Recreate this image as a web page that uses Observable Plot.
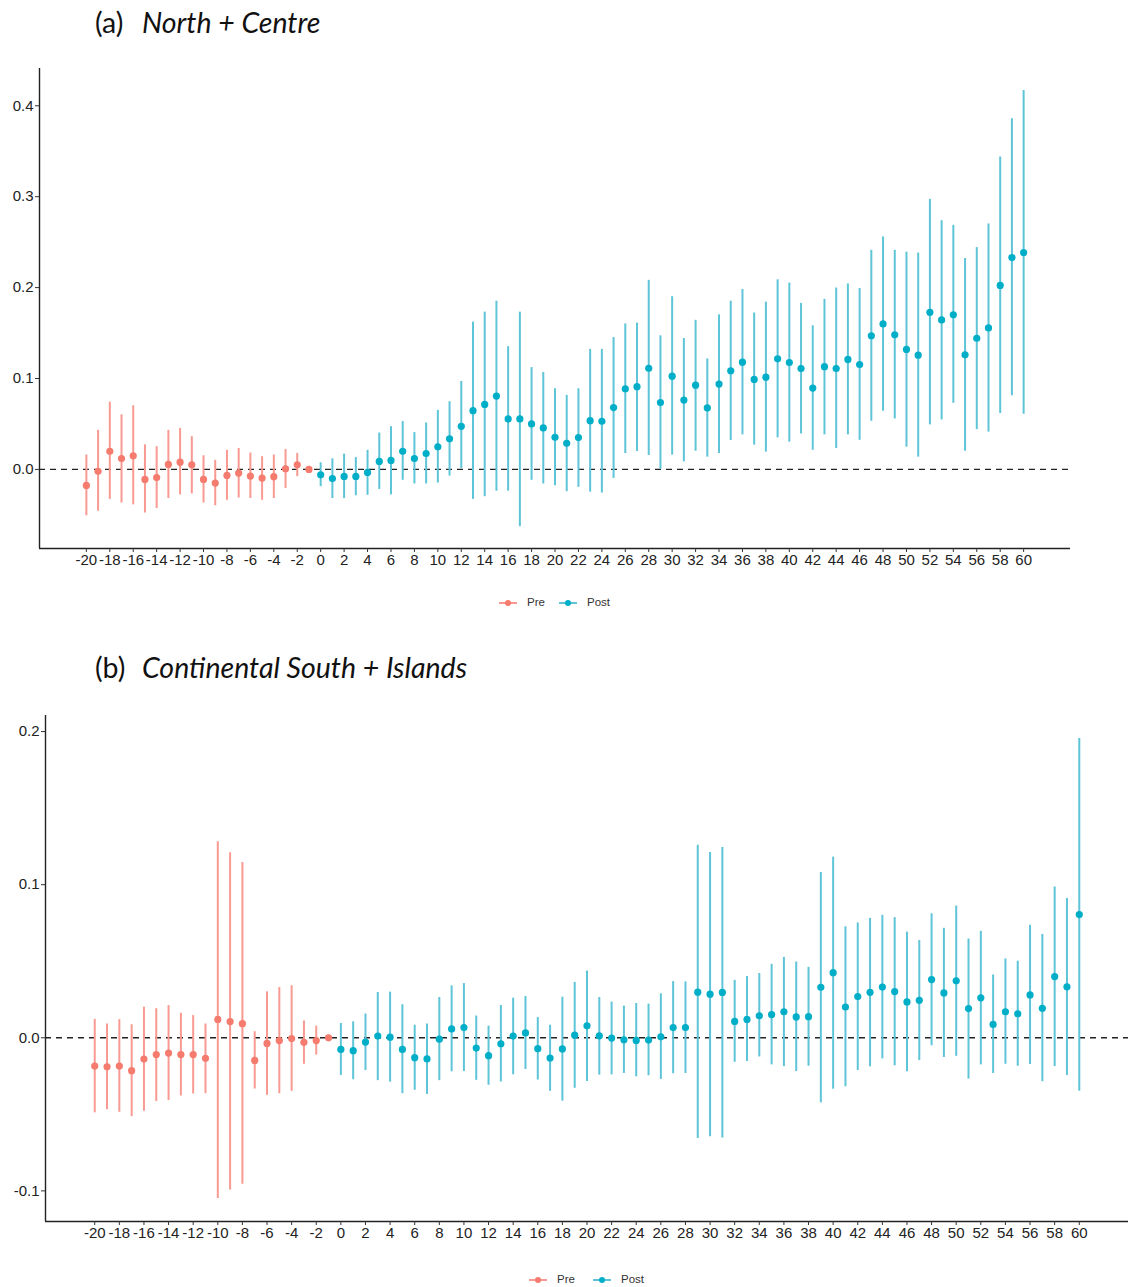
<!DOCTYPE html>
<html>
<head>
<meta charset="utf-8">
<script src="https://cdn.jsdelivr.net/npm/d3@7"></script>
<script src="https://cdn.jsdelivr.net/npm/@observablehq/plot@0.6"></script>
<style>
  html, body { margin: 0; padding: 0; background: #fff; }
  #root { position: relative; width: 1128px; height: 1287px; overflow: hidden; font-family: "Liberation Sans", Arial, sans-serif; }
  .title { position: absolute; font-family: Lato, "Open Sans", sans-serif; font-size: 28.5px; color: #111; white-space: nowrap; line-height: 1; }
  .title i { font-style: italic; }
  .panel { position: absolute; left: 0; }
  .legend { position: absolute; font-family: "Liberation Sans", Arial, sans-serif; font-size: 11.5px; color: #333; line-height: 1; }
  .legend svg { position: absolute; }
  .legend span { position: absolute; white-space: nowrap; }
</style>
</head>
<body>
<div id="root"></div>
<script>
// ---------------- DATA ----------------
const eventTime = [-20,-19,-18,-17,-16,-15,-14,-13,-12,-11,-10,-9,-8,-7,-6,-5,-4,-3,-2,-1,
  0,1,2,3,4,5,6,7,8,9,10,11,12,13,14,15,16,17,18,19,20,21,22,23,24,25,26,27,28,29,30,
  31,32,33,34,35,36,37,38,39,40,41,42,43,44,45,46,47,48,49,50,51,52,53,54,55,56,57,58,59,60];

const xTicks = [-20,-18,-16,-14,-12,-10,-8,-6,-4,-2,0,2,4,6,8,10,12,14,16,18,20,22,24,26,28,30,
  32,34,36,38,40,42,44,46,48,50,52,54,56,58,60];
const yTicksA = [0, 0.1, 0.2, 0.3, 0.4];
const yTicksB = [-0.1, 0, 0.1, 0.2];

// Panel (a) North + Centre
const estA = [-0.0176,-0.002,0.020,0.012,0.015,-0.011,-0.009,0.0055,0.008,0.005,-0.011,-0.015,-0.0066,-0.004,-0.0073,-0.0095,-0.008,0.0007,0.005,0,
  -0.006,-0.010,-0.0077,-0.0077,-0.0033,0.0088,0.0099,0.020,0.012,0.0175,0.0248,0.0336,0.0474,0.0646,0.0715,0.0807,0.0555,0.0555,0.050,0.0456,0.0354,
  0.0288,0.035,0.0536,0.053,0.068,0.0887,0.091,0.1113,0.0735,0.1026,0.0763,0.0927,0.0676,0.0939,0.1085,0.118,0.099,0.1015,0.1216,0.1176,
  0.111,0.0895,0.113,0.111,0.121,0.1154,0.147,0.160,0.148,0.132,0.1257,0.1728,0.1644,0.170,0.126,0.1443,0.1556,0.2024,0.233,0.2385];
const loA = [-0.051,-0.046,-0.033,-0.037,-0.039,-0.048,-0.043,-0.032,-0.028,-0.027,-0.037,-0.040,-0.034,-0.0315,-0.032,-0.034,-0.032,-0.021,-0.008,0,
  -0.019,-0.032,-0.032,-0.029,-0.0285,-0.022,-0.028,-0.012,-0.016,-0.016,-0.015,-0.0073,0.001,-0.033,-0.030,-0.024,-0.024,-0.063,-0.012,-0.016,-0.018,
  -0.0245,-0.0197,-0.025,-0.026,-0.0099,0.0175,0.0197,0.0153,0.0003,0.0157,0.0084,0.020,0.0135,0.0175,0.0318,0.038,0.0267,0.019,0.0347,0.030,
  0.039,0.021,0.038,0.023,0.038,0.032,0.053,0.064,0.0555,0.0245,0.0135,0.049,0.0544,0.0727,0.020,0.0438,0.041,0.0614,0.081,0.0606];
const hiA = [0.0158,0.043,0.074,0.060,0.070,0.027,0.025,0.043,0.045,0.036,0.015,0.010,0.021,0.023,0.018,0.014,0.0158,0.022,0.0176,0,
  0.0073,0.0117,0.0168,0.013,0.021,0.040,0.047,0.0526,0.0405,0.051,0.065,0.0745,0.0967,0.162,0.173,0.185,0.135,0.173,0.112,0.1066,0.0887,
  0.0814,0.0887,0.132,0.132,0.145,0.160,0.161,0.208,0.147,0.190,0.144,0.164,0.1216,0.170,0.185,0.198,0.172,0.184,0.2086,0.205,
  0.1826,0.158,0.187,0.1995,0.204,0.199,0.241,0.2557,0.241,0.239,0.238,0.297,0.2736,0.2685,0.232,0.244,0.270,0.3437,0.3858,0.4168];

// Panel (b) Continental South + Islands
const estB = [-0.0185,-0.019,-0.0185,-0.0215,-0.0139,-0.011,-0.010,-0.011,-0.011,-0.0134,0.012,0.0106,0.0092,-0.0148,-0.0037,-0.0018,-0.0005,-0.003,-0.0018,0,
  -0.0076,-0.0084,-0.0028,0.0011,0.0004,-0.0076,-0.013,-0.0138,-0.0009,0.0058,0.0067,-0.0067,-0.0117,-0.0039,0.0011,0.0032,-0.0071,-0.0132,-0.0073,0.0017,0.0078,
  0.0013,-0.0002,-0.0013,-0.0017,-0.0015,0.0006,0.0067,0.0067,0.0298,0.0285,0.0296,0.0107,0.012,0.0144,0.0151,0.017,0.0136,0.0138,0.033,0.0425,
  0.0201,0.0269,0.0297,0.0331,0.0302,0.0234,0.0245,0.038,0.0293,0.0372,0.0191,0.0261,0.0087,0.017,0.0157,0.028,0.0193,0.040,0.0333,0.0805];
const loB = [-0.049,-0.047,-0.0487,-0.0515,-0.048,-0.0416,-0.041,-0.038,-0.0367,-0.0365,-0.105,-0.0995,-0.0956,-0.0335,-0.0376,-0.0365,-0.035,-0.0173,-0.0113,0,
  -0.0246,-0.0274,-0.0214,-0.028,-0.029,-0.0365,-0.0343,-0.037,-0.028,-0.0222,-0.022,-0.0278,-0.031,-0.0289,-0.0242,-0.0207,-0.0276,-0.035,-0.0414,-0.033,-0.0285,
  -0.0244,-0.0242,-0.0233,-0.0255,-0.0248,-0.0272,-0.0235,-0.0233,-0.0658,-0.0647,-0.0654,-0.016,-0.0155,-0.0125,-0.0177,-0.0188,-0.022,-0.0186,-0.0425,-0.0336,
  -0.032,-0.0214,-0.019,-0.0138,-0.0183,-0.0222,-0.0149,-0.0052,-0.0129,-0.0121,-0.027,-0.0177,-0.0233,-0.0173,-0.0186,-0.0175,-0.0287,-0.0188,-0.0246,-0.035];
const hiB = [0.012,0.009,0.0118,0.0085,0.020,0.019,0.021,0.016,0.0145,0.009,0.128,0.1208,0.1145,0.004,0.030,0.0328,0.034,0.011,0.0076,0,
  0.0093,0.0104,0.0155,0.0296,0.0298,0.0216,0.0082,0.009,0.0263,0.0339,0.0354,0.0142,0.0076,0.0211,0.0259,0.027,0.0132,0.0082,0.0265,0.0362,0.0436,
  0.0263,0.0233,0.0207,0.0224,0.022,0.0287,0.0367,0.0365,0.1258,0.121,0.1243,0.0375,0.040,0.042,0.048,0.0525,0.0495,0.046,0.108,0.118,
  0.0725,0.075,0.078,0.080,0.0785,0.069,0.0635,0.081,0.0715,0.086,0.0645,0.0695,0.041,0.0515,0.050,0.0735,0.0675,0.0985,0.091,0.1955];

const groups = ["Pre", "Post"];
const barColor = {Pre: "#F89A92", Post: "#5EC4D8"};
const dotColor = {Pre: "#F47B6D", Post: "#00AEC8"};

// ---------------- BUILD ----------------
function rows(est, lo, hi) {
  return eventTime.map((t, i) => ({t, est: est[i], lo: lo[i], hi: hi[i], g: t < 0 ? "Pre" : "Post"}));
}

const root = document.getElementById("root");

function addTitle(top, label, name) {
  const d = document.createElement("div");
  d.className = "title";
  d.style.top = top + "px";
  d.style.left = "0px";
  d.innerHTML = `<span style="position:absolute;left:95px">${label}</span><i style="position:absolute;left:142px">${name}</i>`;
  root.appendChild(d);
}

function panel({top, height, mt, mb, ml, mr, yDomain, yTicks, data}) {
  const xDomain = [-24, 64];
  const chart = Plot.plot({
    width: 1128,
    height,
    marginTop: mt, marginBottom: mb, marginLeft: ml, marginRight: mr,
    style: {fontFamily: '"Liberation Sans", Arial, sans-serif', fontSize: "15px", color: "#333", background: "#fff"},
    x: {domain: xDomain, label: null},
    y: {domain: yDomain, label: null},
    marks: [
      Plot.ruleY([0], {stroke: "#222", strokeWidth: 1.4, strokeDasharray: "6,5"}),
      Plot.ruleX(data, {x: "t", y1: "lo", y2: "hi", stroke: d => barColor[d.g], strokeWidth: 2}),
      Plot.dot(data, {x: "t", y: "est", r: 3.6, fill: d => dotColor[d.g], stroke: "none"}),
      Plot.ruleX([xDomain[0]], {stroke: "#222", strokeWidth: 1.4}),
      Plot.ruleY([yDomain[0]], {stroke: "#222", strokeWidth: 1.4}),
      Plot.axisX({ticks: xTicks, tickFormat: d => String(d), tickSize: 4, tickPadding: 2, stroke: "#333", fill: "#222", fontSize: 15, label: null}),
      Plot.axisY({ticks: yTicks, tickFormat: d => d.toFixed(1), tickSize: 4, tickPadding: 2, stroke: "#333", fill: "#222", fontSize: 15, label: null})
    ]
  });
  const wrap = document.createElement("div");
  wrap.className = "panel";
  wrap.style.top = top + "px";
  wrap.appendChild(chart);
  root.appendChild(wrap);
}

function legend(top, preX, postX) {
  const d = document.createElement("div");
  d.className = "legend";
  d.style.top = top + "px";
  d.style.left = "0px";
  d.style.width = "1128px";
  d.style.height = "20px";
  const items = [["Pre", preX], ["Post", postX]];
  let html = "";
  for (const [g, cx] of items) {
    html += `<svg width="20" height="10" style="left:${cx - 10}px;top:-5px"><line x1="1" x2="19" y1="5" y2="5" stroke="${barColor[g]}" stroke-width="2"/><circle cx="10" cy="5" r="3" fill="${dotColor[g]}"/></svg>`;
    html += `<span style="left:${cx + 19}px;top:-6px">${g}</span>`;
  }
  d.innerHTML = html;
  root.appendChild(d);
}

addTitle(8, "(a)", "North + Centre");
panel({top: 50, height: 530, mt: 18, mb: 32, ml: 39, mr: 58, yDomain: [-0.087, 0.441], yTicks: yTicksA, data: rows(estA, loA, hiA)});
legend(603, 508, 568);

addTitle(653, "(b)", "Continental South + Islands");
panel({top: 700, height: 550, mt: 15, mb: 29, ml: 45, mr: 0, yDomain: [-0.120, 0.2105], yTicks: yTicksB, data: rows(estB, loB, hiB)});
legend(1280, 538, 602);
</script>
</body>
</html>
